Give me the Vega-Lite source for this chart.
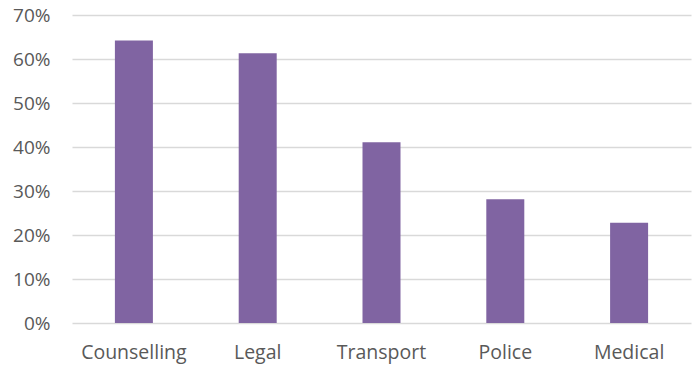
{
  "$schema": "https://vega.github.io/schema/vega-lite/v6.json",
  "autosize": {"type": "none"},
  "width": 619,
  "height": 308,
  "padding": {"left": 72, "top": 15, "right": 6, "bottom": 44},
  "background": "white",
  "config": {"view": {"stroke": null}, "font": "Open Sans"},
  "data": {"values": [
    {"category": "Counselling", "share": 0.642},
    {"category": "Legal", "share": 0.613},
    {"category": "Transport", "share": 0.411},
    {"category": "Police", "share": 0.281},
    {"category": "Medical", "share": 0.228}
  ]},
  "mark": {"type": "bar", "size": 38, "color": "#8064A2"},
  "encoding": {
    "x": {
      "field": "category", "type": "nominal", "sort": null,
      "scale": {"paddingInner": 0, "paddingOuter": 0},
      "axis": {"title": null, "labelAngle": 0, "domain": false, "ticks": false, "labelFontSize": 19.5, "labelColor": "#595959", "labelPadding": 20, "labelFont": "Open Sans"}
    },
    "y": {
      "field": "share", "type": "quantitative",
      "scale": {"domain": [0, 0.7]},
      "axis": {"title": null, "format": ".0%", "values": [0, 0.1, 0.2, 0.3, 0.4, 0.5, 0.6, 0.7], "domain": false, "ticks": false, "labelFontSize": 19, "labelColor": "#595959", "labelPadding": 22, "gridColor": "#d9d9d9", "gridWidth": 1.5, "labelFont": "Open Sans"}
    }
  }
}
